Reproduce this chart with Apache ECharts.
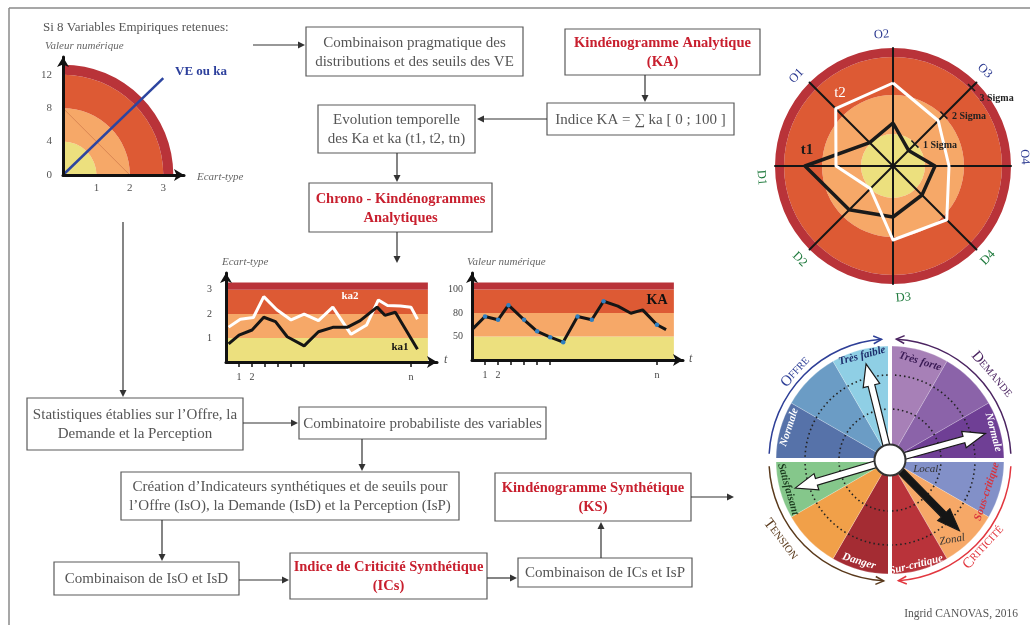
<!DOCTYPE html>
<html>
<head>
<meta charset="utf-8">
<script src="https://cdn.jsdelivr.net/npm/echarts@6/dist/echarts.min.js"></script>
<style>
html, body { margin: 0; padding: 0; background: #fff; }
#main { width: 1030px; height: 625px; }
</style>
</head>
<body>
<div id="main"></div>
<script>
var SERIF = "'Liberation Serif', 'DejaVu Serif', serif";
var INK = '#555';
var RED = '#c81f2e';

// zones (yellow -> dark red), shared by all kindenogrammes
var zoneColors = ['#ece07e', '#f6a868', '#dd5a34', '#b93339'];

// top-left: one variable, quarter of a kindenogramme
var quarterBands = [1, 1, 1, 0.3];
var quarterXTicks = [1, 2, 3];
var quarterYTicks = [0, 4, 8, 12];
var veLine = [[0, 0], [3, 11.6]];
var halfLine = [[0, 8], [2, 0]];

// top-right: kindenogramme analytique (radar)
var radarNames = ['O2', 'O1', 'D1', 'D2', 'D3', 'D4', 'O4', 'O3'];
var radarLabelDeg = [95, 137, 185, 225, 274.5, 316, 4, 46];
var radarT1 = [43, 33, 88, 62, 51, 41, 42, 22];
var radarT2 = [83, 81, 57, 32, 74, 76, 56, 64];
var radarBands = [32, 39, 38, 9];
var sigmaRadius = [31, 72, 111];
var sigmaNames = ['1 Sigma', '2 Sigma', '3 Sigma'];

// chrono-kindenogrammes
var levelEdges = [0, 1, 2, 3, 3.3];
var timeTicks = [1, 2, 3, 4, 5, 6, 14.2];
var timeLabelValues = [1, 2, 14.2];
var timeLabelNames = ['1', '2', 'n'];
var stdLevels = [1, 2, 3];
var stdLabels = ['1', '2', '3'];
var kaLabels = ['50', '80', '100'];
var ka1T = [0.2, 1, 2, 2.9, 3.8, 4.7, 6, 7.1, 8.2, 9.3, 10.3, 11.6, 12.2, 13, 14.7];
var ka1V = [0.75, 1.12, 1.33, 1.86, 1.68, 1.05, 0.67, 1.26, 1.44, 1.44, 1.72, 2.28, 1.94, 2.07, 0.53];
var ka2T = [0.2, 1.1, 2.1, 2.9, 3.9, 5, 6, 7.1, 8.2, 9.6, 10.8, 11.7, 12.4, 13.4, 14.2, 14.7];
var ka2V = [1.45, 1.78, 1.85, 2.72, 2.17, 1.75, 1.99, 1.72, 2.28, 1.15, 1.54, 2.58, 2.35, 2.33, 2.28, 1.78];
var kaT = [0, 1, 2, 2.8, 4, 5, 6, 7, 8.1, 9.2, 10.1, 11.2, 12.2, 13.1, 14.2, 14.9];
var kaV = [1.29, 1.85, 1.71, 2.33, 1.71, 1.22, 0.97, 0.76, 1.85, 1.71, 2.5, 2.29, 1.99, 2.13, 1.5, 1.29];
var kaDot = [0, 1, 1, 1, 1, 1, 1, 1, 1, 1, 1, 0, 0, 0, 1, 0];

// bottom-right: kindenogramme synthetique (wheel, clockwise from top)
var wheelNames = ['Très forte', 'Forte', 'Normale D', 'Sous-critique', 'Zonal', 'Sur-critique',
  'Danger', 'Tension', 'Satisfaisant', 'Normale O', 'Faible', 'Très faible'];
var wheelColors = ['#a780b7', '#8b63a9', '#6f3f95', '#8290c8', '#f6a867', '#b9333a',
  '#a42c33', '#f1a049', '#85c78b', '#5672a9', '#6b9cc5', '#8fcfe5'];
var needleBearing = [346, 74.5, 253.5, 135.5];
var needleFill = ['#ffffff', '#ffffff', '#ffffff', '#151515'];

var RC = [893, 166];   // radar centre
var WC = [890, 460];   // wheel centre

function pt(c, r, deg) {
  var a = deg * Math.PI / 180;
  return [c[0] + r * Math.cos(a), c[1] - r * Math.sin(a)];
}

function label(x, y, text, size, color, o) {
  o = o || {};
  var al = o.align || 'center', va = o.va || 'middle';
  return {
    type: 'text', x: x, y: y, z: o.z || 20, silent: true,
    rotation: (o.rot || 0) * Math.PI / 180,
    style: {
      text: text, fill: color, fontSize: size, fontFamily: SERIF,
      fontWeight: o.bold ? 'bold' : 'normal', fontStyle: o.italic ? 'italic' : 'normal',
      align: al, verticalAlign: va, textAlign: al, textVerticalAlign: va,
      lineHeight: o.lh || Math.round(size * 1.3), rich: o.rich
    }
  };
}

function box(x1, y1, x2, y2, text, red) {
  return [
    { type: 'rect', z: 1, silent: true, shape: { x: x1, y: y1, width: x2 - x1, height: y2 - y1 },
      style: { fill: '#fff', stroke: '#5a5a5a', lineWidth: 1.2 } },
    label((x1 + x2) / 2, (y1 + y2) / 2 + 1, text, red ? 14.5 : 15, red ? RED : INK,
      { bold: red, lh: 19, z: 2 })
  ];
}

function arrow(x1, y1, x2, y2) {
  var dx = x2 - x1, dy = y2 - y1, L = Math.sqrt(dx * dx + dy * dy);
  var ux = dx / L, uy = dy / L, hl = 7, hw = 3.5;
  var bx = x2 - ux * hl, by = y2 - uy * hl;
  return [
    { type: 'line', z: 1, silent: true, shape: { x1: x1, y1: y1, x2: bx, y2: by },
      style: { stroke: '#333', lineWidth: 1.2 } },
    { type: 'polygon', z: 1, silent: true,
      shape: { points: [[x2, y2], [bx - uy * hw, by + ux * hw], [bx + uy * hw, by - ux * hw]] },
      style: { fill: '#333' } }
  ];
}

function arcArrow(r, from, to, color) {
  var rad = Math.PI / 180;
  var els = [{
    type: 'arc', z: 6, silent: true,
    shape: { cx: WC[0], cy: WC[1], r: r, startAngle: -from * rad, endAngle: -to * rad, clockwise: to < from },
    style: { stroke: color, lineWidth: 1.5, fill: 'none' }
  }];
  var tip = pt(WC, r, to);
  var a = to * rad, s = to > from ? 1 : -1;
  var bx = s * Math.sin(a), by = s * Math.cos(a);
  function rot(phi) {
    var c = Math.cos(phi), sn = Math.sin(phi);
    return [tip[0] + 9 * (bx * c - by * sn), tip[1] + 9 * (bx * sn + by * c)];
  }
  els.push({ type: 'polyline', z: 6, silent: true,
    shape: { points: [rot(0.45), tip, rot(-0.45)] },
    style: { stroke: color, lineWidth: 1.5, fill: 'none' } });
  return els;
}

var g = [];
// frame
g.push({ type: 'line', silent: true, shape: { x1: 9, y1: 8, x2: 1030, y2: 8 }, style: { stroke: '#8a8a8a', lineWidth: 1.5 } });
g.push({ type: 'line', silent: true, shape: { x1: 9, y1: 8, x2: 9, y2: 625 }, style: { stroke: '#8a8a8a', lineWidth: 1.5 } });

// flowchart
[
  [306, 27, 523, 76, 'Combinaison pragmatique des\ndistributions et des seuils des VE', false],
  [565, 29, 760, 75, 'Kindénogramme Analytique\n(KA)', true],
  [547, 103, 734, 135, 'Indice KA = ∑ ka [ 0 ; 100 ]', false],
  [318, 105, 475, 153, 'Evolution temporelle\ndes Ka et ka (t1, t2, tn)', false],
  [309, 183, 492, 232, 'Chrono - Kindénogrammes\nAnalytiques', true],
  [27, 398, 243, 450, 'Statistiques établies sur l’Offre, la\nDemande et la Perception', false],
  [299, 407, 546, 439, 'Combinatoire probabiliste des variables', false],
  [121, 472, 459, 520, 'Création d’Indicateurs synthétiques et de seuils pour\nl’Offre (IsO), la Demande (IsD) et la Perception (IsP)', false],
  [495, 473, 691, 521, 'Kindénogramme Synthétique\n(KS)', true],
  [54, 562, 239, 595, 'Combinaison de IsO et IsD', false],
  [290, 553, 487, 599, 'Indice de Criticité Synthétique\n(ICs)', true],
  [518, 558, 692, 587, 'Combinaison de ICs et IsP', false]
].forEach(function (b) { g = g.concat(box(b[0], b[1], b[2], b[3], b[4], b[5])); });

[
  [253, 45, 305, 45], [645, 75, 645, 102], [547, 119, 477, 119], [397, 153, 397, 182],
  [397, 232, 397, 263], [123, 222, 123, 397], [243, 423, 298, 423], [362, 439, 362, 471],
  [162, 520, 162, 561], [239, 580, 289, 580], [487, 578, 517, 578], [601, 558, 601, 522],
  [691, 497, 734, 497]
].forEach(function (a) { g = g.concat(arrow(a[0], a[1], a[2], a[3])); });

g.push(label(43, 28, 'Si 8 Variables Empiriques retenues:', 13, INK, { align: 'left' }));
g.push(label(45, 46, 'Valeur numérique', 11, '#666', { align: 'left', italic: true }));
g.push(label(197, 177, 'Ecart-type', 11, '#666', { align: 'left', italic: true }));
g.push(label(175, 72, 'VE ou ka', 13, '#2c3f9c', { align: 'left', bold: true }));
g.push(label(1018, 614, 'Ingrid CANOVAS, 2016', 11.5, INK, { align: 'right' }));

// chrono titles and tags
g.push(label(222, 262, 'Ecart-type', 11, '#666', { align: 'left', italic: true }));
g.push(label(467, 262, 'Valeur numérique', 11, '#666', { align: 'left', italic: true }));
g.push(label(444, 360, 't', 12, '#555', { align: 'left', italic: true }));
g.push(label(689, 359, 't', 12, '#555', { align: 'left', italic: true }));
g.push(label(350, 296, 'ka2', 11, '#fff', { bold: true }));
g.push(label(400, 347, 'ka1', 11, '#111', { bold: true }));
g.push(label(657, 300, 'KA', 14, '#111', { bold: true }));

// radar labels
radarNames.forEach(function (n, i) {
  var d = radarLabelDeg[i], p = pt(RC, 132, d), up = n.charAt(0) === 'O';
  g.push(label(p[0], p[1], n, 12.5, up ? '#2b3990' : '#1f7a3d', { rot: up ? d - 90 : d - 270 }));
});
sigmaRadius.forEach(function (r, i) {
  var p = pt(RC, r, 45), q = [0.707 * 5, 0.707 * 5];
  g.push({ type: 'line', z: 15, silent: true,
    shape: { x1: p[0] - q[0], y1: p[1] - q[1], x2: p[0] + q[0], y2: p[1] + q[1] },
    style: { stroke: '#1a1a1a', lineWidth: 1.5 } });
  g.push(label(p[0] + 8, p[1] + (i === 2 ? 11 : 1), sigmaNames[i], 10, '#222', { align: 'left', bold: true }));
});
g.push(label(840, 93, 't2', 15, '#fff'));
g.push(label(807, 150, 't1', 15, '#1a1a1a', { bold: true }));

// wheel overlays
[51, 85].forEach(function (r) {
  g.push({ type: 'circle', z: 6, silent: true, shape: { cx: WC[0], cy: WC[1], r: r },
    style: { fill: 'none', stroke: '#222', lineWidth: 1.6, lineDash: [1.5, 3] } });
});
g = g.concat(arcArrow(121, 177, 94, '#2e3f97'));
g = g.concat(arcArrow(121, 3, 87, '#4b2461'));
g = g.concat(arcArrow(121, 183, 267, '#5a3a1c'));
g = g.concat(arcArrow(121, -3, -86, '#e2373f'));
[
  ['O', 'FFRE', 129, 137, 47, '#2e3f97'],
  ['D', 'EMANDE', 133, 40, -50, '#4b2461'],
  ['T', 'ENSION', 135, 216, -53, '#5a3a1c'],
  ['C', 'RITICITÉ', 128, -43, 47, '#e2373f']
].forEach(function (w) {
  var p = pt(WC, w[2], w[3]);
  g.push(label(p[0], p[1], '{a|' + w[0] + '}{b|' + w[1] + '}', 11, w[5], {
    rot: w[4], rich: {
      a: { fontSize: 15, fontFamily: SERIF, fill: w[5] },
      b: { fontSize: 10.5, fontFamily: SERIF, fill: w[5] }
    }
  }));
});
[
  ['Très faible', 108, 105, 15, '#1c2b6a', true],
  ['Très forte', 103, 73, -17, '#3a1a55', true],
  ['Normale', 106, 162, 72, '#ffffff', true],
  ['Normale', 107, 15, -75, '#ffffff', true],
  ['Local', 37, -15, 0, '#333333', false],
  ['Sous-critique', 102, -18, 72, '#d8323c', true],
  ['Zonal', 101, -52, 10, '#333333', false],
  ['Sur-critique', 108, -76, 14, '#ffffff', true],
  ['Danger', 106, 253, -17, '#ffffff', true],
  ['Satisfaisant', 106, 196, -74, '#1b3a1e', true]
].forEach(function (s) {
  var p = pt(WC, s[1], s[2]);
  g.push(label(p[0], p[1], s[0], 11, s[4], { rot: s[3], italic: true, bold: s[5], z: 8 }));
});

function zip(xs, ys) { return xs.map(function (x, i) { return [x, ys[i]]; }); }

function bandSeries(xi) {
  return {
    type: 'line', xAxisIndex: xi, yAxisIndex: xi, z: 1, silent: true,
    data: [[0, 0]], symbol: 'none', lineStyle: { width: 0 },
    markArea: {
      silent: true,
      data: zoneColors.map(function (c, i) {
        return [{ xAxis: 0, yAxis: levelEdges[i], itemStyle: { color: c } },
                { xAxis: 15.5, yAxis: levelEdges[i + 1] }];
      })
    }
  };
}

function blackAxis(extra) {
  var base = {
    type: 'value', z: 5, splitLine: { show: false },
    axisLine: { show: true, lineStyle: { color: '#111', width: 3 }, symbol: ['none', 'arrow'], symbolSize: [9, 10] },
    axisTick: { show: false }
  };
  for (var k in extra) base[k] = extra[k];
  return base;
}

var smallLbl = { fontSize: 10, color: '#444', fontFamily: SERIF };

var option = {
  animation: false,
  backgroundColor: '#fff',
  graphic: { elements: g },
  polar: [
    { center: [63, 175], radius: 112 },
    { center: RC, radius: 118 }
  ],
  angleAxis: [
    { polarIndex: 0, type: 'category', data: ['a', 'b', 'c', 'd'], startAngle: 90,
      axisLine: { show: false }, axisTick: { show: false }, axisLabel: { show: false }, splitLine: { show: false } },
    { polarIndex: 1, type: 'category', data: ['all'], startAngle: 90,
      axisLine: { show: false }, axisTick: { show: false }, axisLabel: { show: false }, splitLine: { show: false } }
  ],
  radiusAxis: [
    { polarIndex: 0, min: 0, max: 3.35, axisLine: { show: false }, axisTick: { show: false }, axisLabel: { show: false }, splitLine: { show: false } },
    { polarIndex: 1, min: 0, max: 118, axisLine: { show: false }, axisTick: { show: false }, axisLabel: { show: false }, splitLine: { show: false } }
  ],
  radar: {
    center: RC, radius: 118, startAngle: 90, z: 3, splitNumber: 1,
    indicator: radarNames.map(function (n) { return { name: n, min: 0, max: 118 }; }),
    axisName: { show: false },
    splitLine: { show: false }, splitArea: { show: false },
    axisLine: { lineStyle: { color: '#161616', width: 2 } }
  },
  grid: [
    { left: 63, top: 57, width: 121, height: 118 },
    { left: 226, top: 273, width: 211, height: 89 },
    { left: 472, top: 273, width: 211, height: 87 }
  ],
  xAxis: [
    blackAxis({ gridIndex: 0, min: 0, max: 3.62,
      axisLabel: { customValues: quarterXTicks, margin: 8, fontSize: 11, color: INK, fontFamily: SERIF } }),
    blackAxis({ gridIndex: 1, min: 0, max: 16.2,
      axisTick: { show: true, customValues: timeTicks, length: 5, lineStyle: { color: '#111', width: 1.5 } },
      axisLabel: Object.assign({ customValues: timeLabelValues, margin: 10,
        formatter: function (v) { return timeLabelNames[timeLabelValues.indexOf(v)]; } }, smallLbl) }),
    blackAxis({ gridIndex: 2, min: 0, max: 16.2,
      axisTick: { show: true, customValues: timeTicks, length: 5, lineStyle: { color: '#111', width: 1.5 } },
      axisLabel: Object.assign({ customValues: timeLabelValues, margin: 10,
        formatter: function (v) { return timeLabelNames[timeLabelValues.indexOf(v)]; } }, smallLbl) })
  ],
  yAxis: [
    blackAxis({ gridIndex: 0, min: 0, max: 14.13,
      axisLabel: { customValues: quarterYTicks, margin: 11, fontSize: 11, color: INK, fontFamily: SERIF } }),
    blackAxis({ gridIndex: 1, min: 0, max: 3.7,
      axisLabel: Object.assign({ customValues: stdLevels, margin: 14,
        formatter: function (v) { return stdLabels[stdLevels.indexOf(v)]; } }, smallLbl) }),
    blackAxis({ gridIndex: 2, min: 0, max: 3.7,
      axisLabel: Object.assign({ customValues: stdLevels, margin: 9,
        formatter: function (v) { return kaLabels[stdLevels.indexOf(v)]; } }, smallLbl) })
  ],
  series: [].concat(
    quarterBands.map(function (v, i) {
      return { type: 'bar', coordinateSystem: 'polar', polarIndex: 0, stack: 'q', silent: true,
        barCategoryGap: '0%', data: [v, '-', '-', '-'], itemStyle: { color: zoneColors[i] } };
    }),
    radarBands.map(function (v, i) {
      return { type: 'bar', coordinateSystem: 'polar', polarIndex: 1, stack: 'r', silent: true,
        barCategoryGap: '0%', data: [v], itemStyle: { color: zoneColors[i] } };
    }),
    [
      { type: 'line', xAxisIndex: 0, yAxisIndex: 0, z: 4, silent: true, data: halfLine, symbol: 'none',
        lineStyle: { color: 'rgba(170,80,50,0.55)', width: 0.7 } },
      { type: 'line', xAxisIndex: 0, yAxisIndex: 0, z: 4, silent: true, data: veLine, symbol: 'none',
        lineStyle: { color: '#2c45a0', width: 2.5 } },
      bandSeries(1),
      bandSeries(2),
      { type: 'line', xAxisIndex: 1, yAxisIndex: 1, z: 3, silent: true, data: zip(ka2T, ka2V), symbol: 'none',
        lineStyle: { color: '#fff', width: 3 } },
      { type: 'line', xAxisIndex: 1, yAxisIndex: 1, z: 3, silent: true, data: zip(ka1T, ka1V), symbol: 'none',
        lineStyle: { color: '#151515', width: 3 } },
      { type: 'line', xAxisIndex: 2, yAxisIndex: 2, z: 3, silent: true,
        data: kaT.map(function (t, i) {
          return { value: [t, kaV[i]], symbol: kaDot[i] ? 'circle' : 'none', symbolSize: 4.5 };
        }),
        showSymbol: true, itemStyle: { color: '#2f7fc1', borderWidth: 0 },
        lineStyle: { color: '#151515', width: 3 } },
      { type: 'radar', z: 4, silent: true, symbol: 'none',
        data: [
          { name: 't1', value: radarT1, lineStyle: { color: '#1a1a1a', width: 3.5 } },
          { name: 't2', value: radarT2, lineStyle: { color: '#ffffff', width: 3 } }
        ] },
      { type: 'pie', center: WC, radius: [0, 114], startAngle: 90, clockwise: true, z: 2, silent: true,
        label: { show: false }, labelLine: { show: false }, emphasis: { disabled: true },
        itemStyle: { borderColor: 'rgba(255,255,255,0.35)', borderWidth: 0.6 },
        data: wheelNames.map(function (n, i) { return { name: n, value: 1, itemStyle: { color: wheelColors[i] } }; }) },
      { type: 'gauge', center: WC, radius: 116, startAngle: 90, endAngle: -270, min: 0, max: 360,
        splitNumber: 4, z: 10, silent: true,
        axisLine: { show: false, lineStyle: { width: 0 } },
        splitLine: { show: true, length: 102, distance: 0, lineStyle: { color: '#fff', width: 4 } },
        axisTick: { show: false }, axisLabel: { show: false }, title: { show: false }, detail: { show: false },
        pointer: { icon: 'path://M5,0 L10,9 L7,9 L7,40 L3,40 L3,9 L0,9 Z', length: 99, width: 17, keepAspect: false },
        anchor: { show: true, showAbove: true, size: 31, icon: 'circle',
          itemStyle: { color: '#fff', borderColor: '#333', borderWidth: 2 } },
        data: needleBearing.map(function (v, i) {
          return { value: v, itemStyle: { color: needleFill[i], borderColor: '#1a1a1a', borderWidth: 1.2 } };
        }) }
    ]
  )
};

var chart = echarts.init(document.getElementById('main'));
chart.setOption(option);
</script>
</body>
</html>
